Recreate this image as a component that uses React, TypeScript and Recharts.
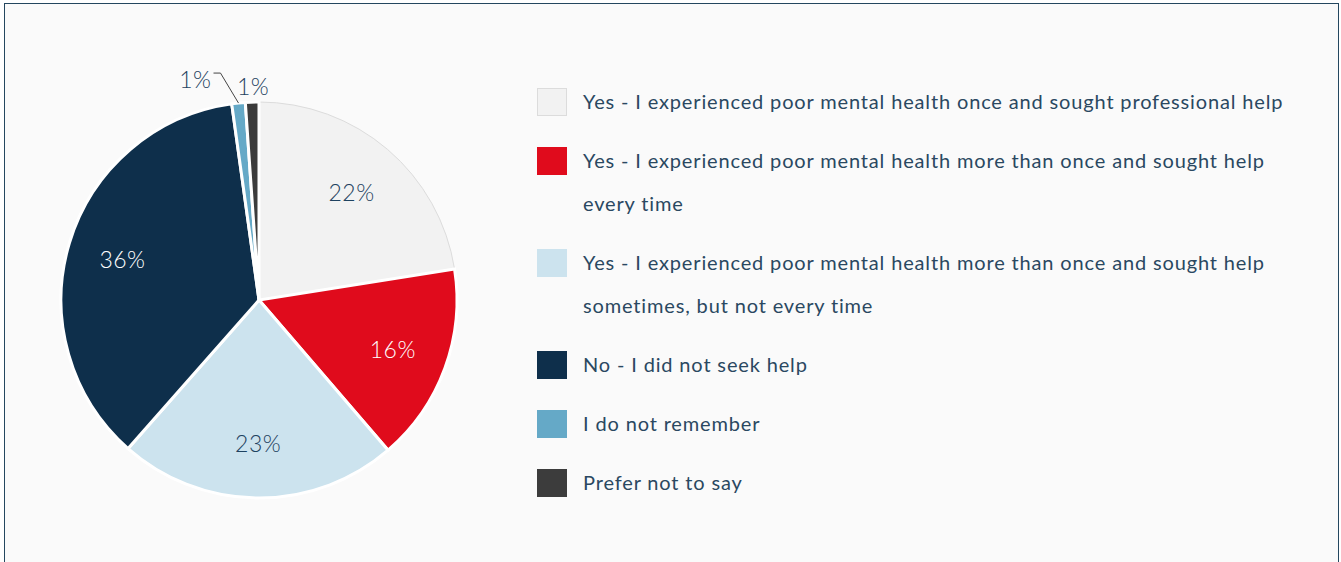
import { PieChart, Pie, Cell, Legend } from "recharts";

const CATEGORIES = [
  "Yes - I experienced poor mental health once and sought professional help",
  "Yes - I experienced poor mental health more than once and sought help every time",
  "Yes - I experienced poor mental health more than once and sought help sometimes, but not every time",
  "No - I did not seek help",
  "I do not remember",
  "Prefer not to say",
];
const VALUES = [22.5, 16.2, 22.8, 36.3, 1.1, 1.1];
const LABELS = ["22%", "16%", "23%", "36%", "1%", "1%"];
const COLORS = ["#f2f2f2", "#e00b1c", "#cce3ee", "#0e2f4b", "#65a9c7", "#3c3c3c"];
const LABEL_COLORS = ["#1e4260", "#ffffff", "#1e4260", "#ffffff", "#1e4260", "#1e4260"];

const FONT = "Lato, 'Noto Sans', sans-serif";
const RAD = Math.PI / 180;

const data = CATEGORIES.map((name, i) => ({ name, value: VALUES[i] }));

function renderLabel(props: any) {
  const { cx, cy, midAngle, outerRadius, index } = props;
  const text = LABELS[index];
  if (VALUES[index] >= 5) {
    const r = outerRadius * 0.72;
    const x = cx + r * Math.cos(-midAngle * RAD);
    const y = cy + r * Math.sin(-midAngle * RAD);
    return (
      <text
        x={x}
        y={y}
        fill={LABEL_COLORS[index]}
        textAnchor="middle"
        dominantBaseline="central"
        fontSize={23}
        fontWeight={300}
        fontFamily={FONT}
        letterSpacing={0.5}
      >
        {text}
      </text>
    );
  }
  const x0 = cx + outerRadius * Math.cos(-midAngle * RAD);
  const y0 = cy + outerRadius * Math.sin(-midAngle * RAD);
  // last small slice sits right above, the other one gets a leader line
  if (index === VALUES.length - 1) {
    return (
      <text
        x={x0 + 1}
        y={y0 - 16}
        fill="#1e4260"
        textAnchor="middle"
        dominantBaseline="central"
        fontSize={23}
        fontWeight={300}
        fontFamily={FONT}
        letterSpacing={0.5}
      >
        {text}
      </text>
    );
  }
  const x1 = x0 - 18;
  const y1 = y0 - 30;
  const x2 = x1 - 7;
  return (
    <g>
      <polyline
        points={`${x0},${y0} ${x1},${y1} ${x2},${y1}`}
        fill="none"
        stroke="#444"
        strokeWidth={1}
      />
      <text
        x={x2 - 2}
        y={y1 + 6}
        fill="#1e4260"
        textAnchor="end"
        dominantBaseline="central"
        fontSize={23}
        fontWeight={300}
        fontFamily={FONT}
        letterSpacing={0.5}
      >
        {text}
      </text>
    </g>
  );
}

function LegendBox() {
  return (
    <div style={{ fontFamily: FONT, fontSize: 20, color: "#2a4861", letterSpacing: 0.85 }}>
      {CATEGORIES.map((c, i) => (
        <div key={i} style={{ display: "flex", alignItems: "flex-start", marginBottom: 16 }}>
          <div
            style={{
              width: 30,
              height: 28,
              marginTop: 8,
              flexShrink: 0,
              boxSizing: "border-box",
              background: COLORS[i],
              border: i === 0 ? "1px solid #dcdcdc" : "none",
            }}
          />
          <div style={{ marginLeft: 16, lineHeight: "43px", width: 715 }}>{c}</div>
        </div>
      ))}
    </div>
  );
}

export default function App() {
  return (
    <div
      style={{
        position: "absolute",
        left: 4,
        top: 3,
        width: 1333,
        height: 580,
        border: "1px solid #24475f",
        background: "#fafafa",
      }}
    >
      <PieChart width={1333} height={580}>
        <Pie
          data={data}
          dataKey="value"
          nameKey="name"
          cx={249}
          cy={291}
          outerRadius={198}
          startAngle={90}
          endAngle={-270}
          label={renderLabel}
          labelLine={false}
          isAnimationActive={false}
        >
          {data.map((_, i) => (
            <Cell
              key={i}
              fill={COLORS[i]}
              stroke={i === 0 ? "#dcdcdc" : "#ffffff"}
              strokeWidth={i === 0 ? 1 : 3}
            />
          ))}
        </Pie>
        <Legend
          content={() => <LegendBox />}
          wrapperStyle={{ position: "absolute", left: 532, top: 76, width: 780 }}
        />
      </PieChart>
    </div>
  );
}
